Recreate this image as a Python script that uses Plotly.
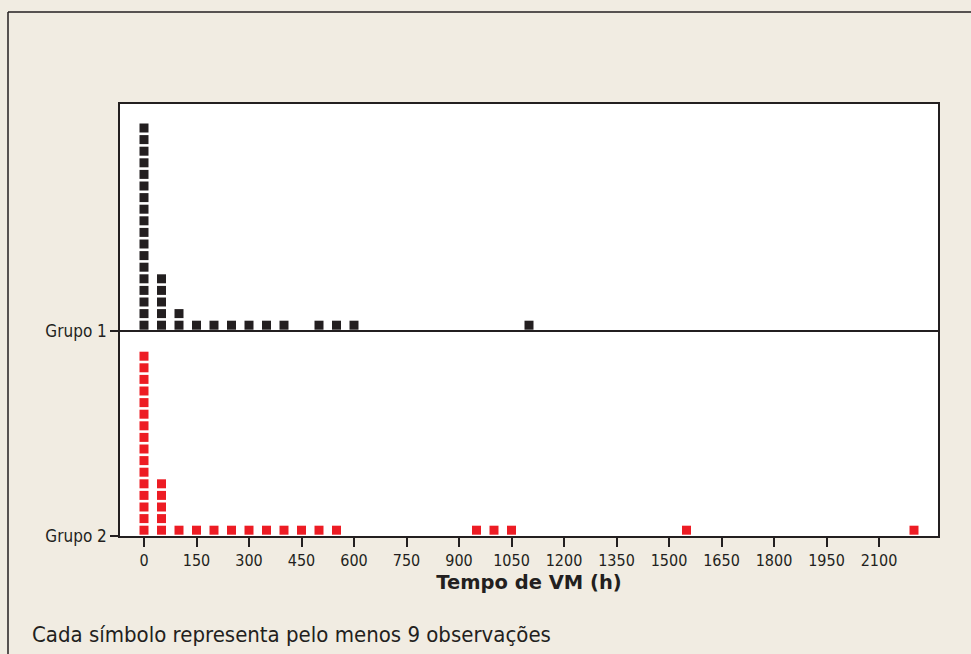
import plotly.graph_objects as go

# Data: bin centres (h) and number of symbols stacked in each bin
g1_x = [0, 50, 100, 150, 200, 250, 300, 350, 400, 500, 550, 600, 1100]
g1_n = [18, 5, 2, 1, 1, 1, 1, 1, 1, 1, 1, 1, 1]
g2_x = [0, 50, 100, 150, 200, 250, 300, 350, 400, 450, 500, 550, 950, 1000, 1050, 1550, 2200]
g2_n = [16, 5, 1, 1, 1, 1, 1, 1, 1, 1, 1, 1, 1, 1, 1, 1, 1]
group_labels = ["Grupo 1", "Grupo 2"]
x_ticks = list(range(0, 2101, 150))
x_title = "Tempo de VM (h)"
footnote = "Cada símbolo representa pelo menos 9 observações"

BLACK = "#231F20"
RED = "#ED1C24"
BG = "#F1ECE2"
FONT = "DejaVu Sans Condensed, DejaVu Sans, sans-serif"

W, H = 971, 654
L, R, T, B = 120, 33, 104, 118
plot_h = H - T - B
pitch = 11.6                     # pixel pitch of one stacked symbol
y_top = plot_h / pitch
base1 = 205 / pitch              # baseline of Grupo 1 panel
base2 = 0.0


def stack(xs, ns, base):
    px, py = [], []
    for x, n in zip(xs, ns):
        for k in range(n):
            px.append(x)
            py.append(base + 0.5 + k)
    return px, py


fig = go.Figure()
x1, y1 = stack(g1_x, g1_n, base1)
x2, y2 = stack(g2_x, g2_n, base2)
fig.add_trace(go.Scatter(x=x1, y=y1, mode="markers", name=group_labels[0],
                         marker=dict(symbol="square", size=9, color=BLACK, line=dict(width=0))))
fig.add_trace(go.Scatter(x=x2, y=y2, mode="markers", name=group_labels[1],
                         marker=dict(symbol="square", size=9, color=RED, line=dict(width=0))))

x_left = -24 / 0.35
x_right = (938 - 144) / 0.35

fig.update_layout(
    width=W, height=H,
    margin=dict(l=L, r=R, t=T, b=B, autoexpand=False),
    paper_bgcolor=BG, plot_bgcolor="white",
    showlegend=False,
    font=dict(family=FONT, size=16, color=BLACK),
    xaxis=dict(range=[x_left, x_right], tickvals=x_ticks, ticktext=[str(v) for v in x_ticks],
               ticks="outside", ticklen=9, tickwidth=1.5, tickcolor=BLACK,
               showline=True, linecolor=BLACK, linewidth=1.5, mirror=True,
               showgrid=False, zeroline=False,
               tickfont=dict(size=16),
               title=dict(text="<b>" + x_title + "</b>",
                          font=dict(size=19.5, family="DejaVu Sans, sans-serif"), standoff=6)),
    yaxis=dict(range=[0, y_top], tickvals=[base1, base2], ticktext=group_labels,
               ticks="outside", ticklen=8, tickwidth=1.5, tickcolor=BLACK,
               showline=True, linecolor=BLACK, linewidth=1.5, mirror=True,
               showgrid=False, zeroline=False, tickfont=dict(size=17)),
)

# divider between the two groups
fig.add_shape(type="line", xref="paper", yref="y", x0=0, x1=1, y0=base1, y1=base1,
              line=dict(color=BLACK, width=1.8))

# outer frame (top and left edges)
fx0 = (8 - L) / (W - L - R)
fy0 = (H - B - 12) / plot_h
fig.add_shape(type="line", xref="paper", yref="paper", x0=fx0, x1=1.2, y0=fy0, y1=fy0,
              line=dict(color=BLACK, width=1.5))
fig.add_shape(type="line", xref="paper", yref="paper", x0=fx0, x1=fx0, y0=fy0, y1=-0.5,
              line=dict(color=BLACK, width=1.5))

fig.add_annotation(text=footnote, xref="paper", yref="paper",
                   x=(30 - L) / (W - L - R), y=(H - B - 634) / plot_h,
                   xanchor="left", yanchor="middle", showarrow=False,
                   font=dict(size=22, color=BLACK, family=FONT))

fig.write_html("out.html", config={"displayModeBar": False},
               post_script="document.body.style.margin='0px';")
